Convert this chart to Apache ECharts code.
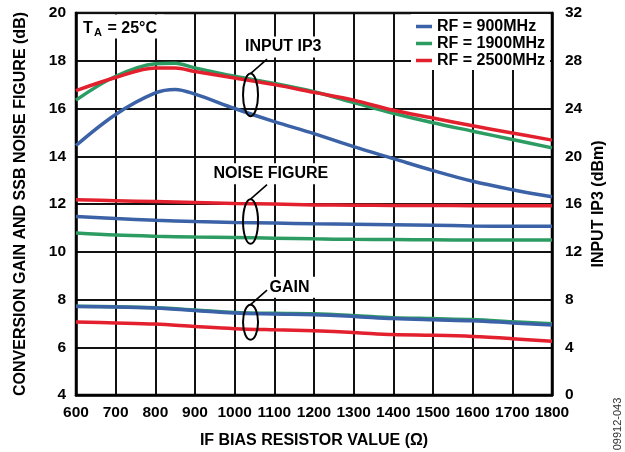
<!DOCTYPE html>
<html><head><meta charset="utf-8">
<script src="https://cdn.jsdelivr.net/npm/echarts@6/dist/echarts.min.js"></script>
<style>html,body{margin:0;padding:0;background:#fff}#c{width:625px;height:452px}</style>
</head><body><div id="c"></div>
<script>
// ---- data ----
const resistor = [600,700,800,900,1000,1100,1200,1300,1400,1500,1600,1700,1800];
const resistorIP3 = [600,700,800,850,900,1000,1100,1200,1300,1400,1500,1600,1700,1800];
const seriesNames = ['RF = 900MHz','RF = 1900MHz','RF = 2500MHz'];
// Input IP3 (dBm, right axis)
const ip3_900  = [20.9,23.5,25.3,25.6,25.2,24.0,22.9,21.9,20.8,19.8,18.8,17.9,17.2,16.6];
const ip3_1900 = [24.7,26.7,27.75,27.8,27.4,26.7,26.1,25.4,24.5,23.6,22.8,22.1,21.4,20.7];
const ip3_2500 = [25.5,26.6,27.4,27.4,27.1,26.55,26.0,25.35,24.7,23.85,23.2,22.55,21.95,21.35];
// Noise figure (dB, left axis)
const nf_900  = [11.48,11.39,11.32,11.27,11.23,11.20,11.17,11.15,11.13,11.11,11.08,11.07,11.07];
const nf_1900 = [10.79,10.70,10.65,10.62,10.60,10.57,10.54,10.52,10.51,10.50,10.49,10.49,10.49];
const nf_2500 = [12.18,12.14,12.10,12.06,12.02,12.00,11.96,11.95,11.94,11.94,11.93,11.93,11.93];
// Conversion gain (dB, left axis)
const gain_900  = [7.71,7.69,7.64,7.54,7.43,7.39,7.36,7.29,7.20,7.15,7.11,7.02,6.93];
const gain_1900 = [7.72,7.70,7.65,7.56,7.46,7.42,7.40,7.33,7.24,7.20,7.16,7.07,6.98];
const gain_2500 = [7.06,7.02,6.97,6.87,6.78,6.73,6.69,6.62,6.53,6.50,6.45,6.36,6.25];
const xTicks = {min:600, max:1800, step:100};
const leftTicks = {min:4, max:20, step:2};
const rightTicks = {min:0, max:32, step:4};

// ---- chart ----
const FONT = '"Liberation Sans", Arial, Helvetica, sans-serif';
const colors = {'RF = 900MHz':'#3b62a6','RF = 1900MHz':'#2d9c63','RF = 2500MHz':'#e3202d'};
const zip = (xs, ys) => xs.map((x,i)=>[x, ys[i]]);
function line(name, xs, ys, yAxisIndex){
  return {type:'line', name, yAxisIndex, data: zip(xs,ys), smooth:0.35, showSymbol:false,
    symbol:'none', lineStyle:{color:colors[name], width:3.5}, itemStyle:{color:colors[name]}, silent:true};
}
const chart = echarts.init(document.getElementById('c'), null, {renderer:'canvas'});
const labelStyle = {color:'#000', fontSize:15.5, fontWeight:'bold', fontFamily:FONT, formatter:v=>String(v)};
const gridLine = {show:true, lineStyle:{color:'#111', width:2}};
chart.setOption({
  animation:false,
  backgroundColor:'#fff',
  grid:{left:76, right:73, top:13, bottom:57, show:true, borderColor:'#000', borderWidth:2.5},
  legend:{
    data: seriesNames, orient:'vertical', left:411, top:14,
    padding:[4,5,1,5], backgroundColor:'#fff', itemGap:0,
    icon:'rect', itemWidth:16, itemHeight:3.5,
    textStyle:{color:'#000', fontSize:16, fontWeight:'bold', fontFamily:FONT, lineHeight:17}
  },
  xAxis:{type:'value', min:xTicks.min, max:xTicks.max, interval:xTicks.step,
    axisLine:{show:true, lineStyle:{color:'#000', width:2.5}}, axisTick:{show:false},
    axisLabel:Object.assign({margin:10}, labelStyle),
    splitLine:gridLine},
  yAxis:[
    {type:'value', position:'left', min:leftTicks.min, max:leftTicks.max, interval:leftTicks.step,
      axisLine:{show:true, lineStyle:{color:'#000', width:2.5}}, axisTick:{show:false},
      axisLabel:Object.assign({margin:10}, labelStyle),
      splitLine:gridLine},
    {type:'value', position:'right', min:rightTicks.min, max:rightTicks.max, interval:rightTicks.step,
      axisLine:{show:true, lineStyle:{color:'#000', width:2.5}}, axisTick:{show:false},
      axisLabel:Object.assign({margin:13}, labelStyle),
      splitLine:{show:false}}
  ],
  series:[
    line('RF = 1900MHz', resistorIP3, ip3_1900, 1),
    line('RF = 2500MHz', resistorIP3, ip3_2500, 1),
    line('RF = 900MHz',  resistorIP3, ip3_900, 1),
    line('RF = 1900MHz', resistor, nf_1900, 0),
    line('RF = 2500MHz', resistor, nf_2500, 0),
    line('RF = 900MHz',  resistor, nf_900, 0),
    line('RF = 1900MHz', resistor, gain_1900, 0),
    line('RF = 2500MHz', resistor, gain_2500, 0),
    line('RF = 900MHz',  resistor, gain_900, 0)
  ]
});

// ---- annotations ----
const toPx = (x,y) => chart.convertToPixel({xAxisIndex:0, yAxisIndex:0}, [x,y]);
const txt = (text, x, y, opts) => Object.assign({type:'text', x, y, z:100, silent:true,
  style:Object.assign({text, fill:'#000', fontSize:16, fontWeight:'bold', fontFamily:FONT,
    align:'left', verticalAlign:'middle'}, (opts&&opts.style)||{})}, opts&&opts.el||{});
const mask = (x, y, w, h) => ({type:'rect', z:99, silent:true, shape:{x, y, width:w, height:h}, style:{fill:'#fff'}});
const annos = [
  {label:'INPUT IP3', x:1040, y:16.57, ry:21.3, dx:-5.5, dy:-26.5, w:76},
  {label:'NOISE FIGURE', x:1040, y:11.27, ry:22.3, dx:-37, dy:-25.4, w:115},
  {label:'GAIN', x:1040, y:7.05, ry:17.5, dx:19, dy:-17.5, w:47}
];
const graphic = [];
annos.forEach(a=>{
  const [cx, cy] = toPx(a.x, a.y);
  const tx = cx + a.dx, ty = cy - a.ry + a.dy;
  graphic.push(mask(tx-5, ty-10.5, a.w+10, 21));
  graphic.push({type:'ellipse', z:100, silent:true, shape:{cx, cy, rx:7.5, ry:a.ry},
    style:{fill:'none', stroke:'#000', lineWidth:2}});
  graphic.push({type:'line', z:100, silent:true,
    shape:{x1:cx, y1:cy-a.ry, x2:cx+16.5, y2:cy-a.ry-14.5},
    style:{stroke:'#000', lineWidth:1.6}});
  graphic.push(txt(a.label, tx, ty));
});
graphic.push(mask(78, 14.5, 86, 24));
graphic.push(txt('T', 83, 28.5));
graphic.push(txt('A', 94, 32.5, {style:{fontSize:11}}));
graphic.push(txt('= 25°C', 107.5, 28.5));
// axis titles
graphic.push(txt('CONVERSION GAIN AND SSB NOISE FIGURE (dB)', 21, 204, {el:{rotation:Math.PI/2}, style:{align:'center'}}));
graphic.push(txt('INPUT IP3 (dBm)', 599, 204, {el:{rotation:Math.PI/2}, style:{align:'center'}}));
graphic.push(txt('IF BIAS RESISTOR VALUE (Ω)', 314, 440.5, {style:{align:'center'}}));
graphic.push(txt('09912-043', 617.5, 424, {el:{rotation:Math.PI/2}, style:{align:'center', fontSize:11, fontWeight:'normal', fill:'#333'}}));
chart.setOption({graphic});
</script>
</body></html>
